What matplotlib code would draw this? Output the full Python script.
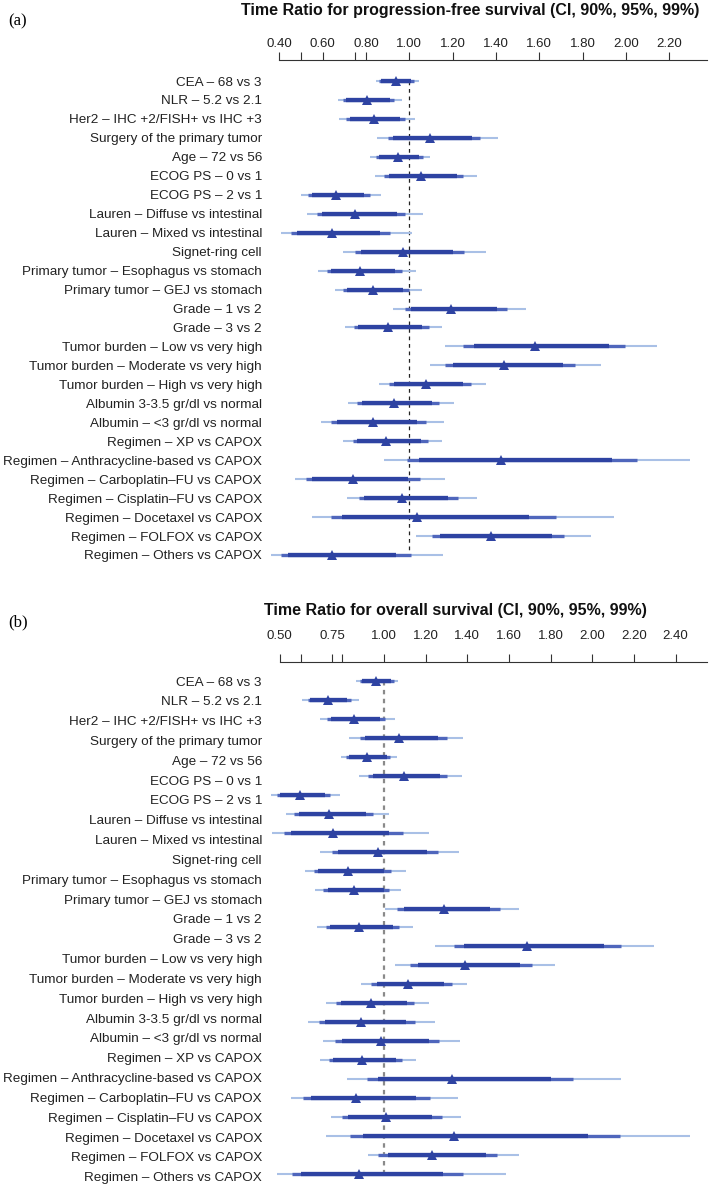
import numpy as np
import matplotlib
matplotlib.use("Agg")
import matplotlib.pyplot as plt

labels = ["CEA – 68 vs 3", "NLR – 5.2 vs 2.1", "Her2 – IHC +2/FISH+ vs IHC +3",
          "Surgery of the primary tumor", "Age – 72 vs 56", "ECOG PS – 0 vs 1",
          "ECOG PS – 2 vs 1", "Lauren – Diffuse vs intestinal", "Lauren – Mixed vs intestinal",
          "Signet-ring cell", "Primary tumor – Esophagus vs stomach",
          "Primary tumor – GEJ vs stomach", "Grade – 1 vs 2", "Grade – 3 vs 2",
          "Tumor burden – Low vs very high", "Tumor burden – Moderate vs very high",
          "Tumor burden – High vs very high", "Albumin 3-3.5 gr/dl vs normal",
          "Albumin – <3 gr/dl vs normal", "Regimen – XP vs CAPOX",
          "Regimen – Anthracycline-based vs CAPOX", "Regimen – Carboplatin–FU vs CAPOX",
          "Regimen – Cisplatin–FU vs CAPOX", "Regimen – Docetaxel vs CAPOX",
          "Regimen – FOLFOX vs CAPOX", "Regimen – Others vs CAPOX"]

# Panel (a): progression-free survival
pt_a = [0.938, 0.803, 0.835, 1.095, 0.949, 1.052, 0.660, 0.751, 0.644, 0.969, 0.772, 0.834, 1.191,
        0.900, 1.579, 1.436, 1.079, 0.929, 0.831, 0.892, 1.423, 0.741, 0.966, 1.037, 1.379, 0.644]
lo90_a = [0.871, 0.707, 0.726, 0.923, 0.861, 0.908, 0.549, 0.595, 0.480, 0.777, 0.638, 0.714, 1.006,
          0.764, 1.297, 1.203, 0.931, 0.781, 0.667, 0.757, 1.046, 0.552, 0.791, 0.691, 1.143, 0.440]
hi90_a = [1.006, 0.911, 0.957, 1.289, 1.046, 1.219, 0.792, 0.941, 0.865, 1.203, 0.934, 0.972, 1.406,
          1.060, 1.924, 1.711, 1.249, 1.103, 1.034, 1.052, 1.935, 0.994, 1.179, 1.554, 1.659, 0.938]
lo95_a = [0.860, 0.696, 0.707, 0.901, 0.848, 0.883, 0.532, 0.572, 0.453, 0.749, 0.618, 0.694, 0.980,
          0.743, 1.249, 1.166, 0.906, 0.758, 0.640, 0.738, 0.988, 0.523, 0.766, 0.640, 1.105, 0.409]
hi95_a = [1.022, 0.929, 0.980, 1.328, 1.062, 1.248, 0.817, 0.980, 0.912, 1.251, 0.965, 0.998, 1.450,
          1.091, 1.996, 1.767, 1.283, 1.139, 1.075, 1.085, 2.050, 1.048, 1.223, 1.677, 1.716, 1.006]
lo99_a = [0.845, 0.670, 0.677, 0.851, 0.820, 0.841, 0.501, 0.527, 0.409, 0.694, 0.578, 0.657, 0.923,
          0.703, 1.165, 1.094, 0.861, 0.715, 0.594, 0.694, 0.883, 0.470, 0.712, 0.552, 1.032, 0.360]
hi99_a = [1.046, 0.968, 1.028, 1.408, 1.097, 1.314, 0.868, 1.062, 1.014, 1.356, 1.029, 1.057, 1.540,
          1.152, 2.146, 1.884, 1.354, 1.208, 1.162, 1.151, 2.295, 1.165, 1.313, 1.947, 1.838, 1.154]
ticks_a = [0.4, 0.5, 0.6, 0.75, 0.8, 1.0, 1.2, 1.4, 1.6, 1.8, 2.0, 2.2]
ticklabels_a = ["0.40", "", "0.60", "", "0.80", "1.00", "1.20", "1.40", "1.60", "1.80", "2.00", "2.20"]

# Panel (b): overall survival (27 interval rows drawn in the original)
pt_b = [0.962, 0.731, 0.858, 1.072, 0.918, 1.098, 0.598, 0.736, 0.754, 0.970, 0.829, 0.854, 1.288,
        0.878, 1.688, 1.387, 1.115, 0.938, 0.891, 0.984, 0.896, 1.325, 0.866, 1.010, 1.338, 1.232, 0.880]
lo90_b = [0.894, 0.645, 0.744, 0.910, 0.834, 0.949, 0.501, 0.594, 0.554, 0.781, 0.685, 0.730, 1.096,
          0.741, 1.386, 1.162, 0.965, 0.792, 0.717, 0.798, 0.757, 0.973, 0.648, 0.827, 0.899, 1.021, 0.600]
hi90_b = [1.032, 0.824, 0.981, 1.261, 1.013, 1.269, 0.717, 0.914, 1.026, 1.205, 1.000, 1.000, 1.509,
          1.042, 2.058, 1.653, 1.290, 1.109, 1.104, 1.216, 1.056, 1.800, 1.154, 1.230, 1.981, 1.488, 1.285]
lo95_b = [0.885, 0.634, 0.726, 0.885, 0.819, 0.923, 0.485, 0.570, 0.520, 0.749, 0.662, 0.709, 1.064,
          0.720, 1.336, 1.125, 0.939, 0.770, 0.690, 0.766, 0.734, 0.920, 0.613, 0.798, 0.835, 0.970, 0.558]
hi95_b = [1.048, 0.840, 1.005, 1.301, 1.029, 1.304, 0.739, 0.949, 1.090, 1.258, 1.034, 1.024, 1.555,
          1.074, 2.136, 1.709, 1.328, 1.144, 1.150, 1.266, 1.088, 1.909, 1.219, 1.277, 2.133, 1.541, 1.381]
lo99_b = [0.867, 0.608, 0.694, 0.834, 0.795, 0.878, 0.456, 0.530, 0.464, 0.694, 0.622, 0.670, 1.006,
          0.680, 1.243, 1.054, 0.891, 0.723, 0.637, 0.709, 0.694, 0.822, 0.554, 0.744, 0.723, 0.922, 0.488]
hi99_b = [1.069, 0.878, 1.053, 1.378, 1.061, 1.373, 0.787, 1.024, 1.218, 1.360, 1.104, 1.082, 1.646,
          1.139, 2.298, 1.821, 1.398, 1.214, 1.243, 1.363, 1.152, 2.136, 1.354, 1.370, 2.467, 1.648, 1.586]
ticks_b = [0.5, 0.6, 0.75, 0.8, 1.0, 1.2, 1.4, 1.6, 1.8, 2.0, 2.2, 2.4]
ticklabels_b = ["0.50", "", "0.75", "", "1.00", "1.20", "1.40", "1.60", "1.80", "2.00", "2.20", "2.40"]

title_a = "Time Ratio for progression-free survival (CI, 90%, 95%, 99%)"
title_b = "Time Ratio for overall survival (CI, 90%, 95%, 99%)"

C_DARK = "#2e43a2"
C_MED = "#4f66bc"
C_LIGHT = "#a9c0e6"

W, H = 709, 1185
fig = plt.figure(figsize=(W / 100, H / 100), dpi=100)
SANS = ["Liberation Sans", "DejaVu Sans"]
NARROW = ["Liberation Sans Narrow", "Liberation Sans", "DejaVu Sans"]
plt.rcParams["font.family"] = SANS


def panel(top_px, bot_px, x1_px, scale, row_px, row0_px, nrows, label_rows,
          pt, lo90, hi90, lo95, hi95, lo99, hi99, ticks, ticklabels, spine_lo,
          ref_style, labelpad):
    left_px, right_px = 262, 707
    ax = fig.add_axes([left_px / W, 1 - bot_px / H, (right_px - left_px) / W, (bot_px - top_px) / H])
    ax.set_xlim(1 - (x1_px - left_px) / scale, 1 + (right_px - x1_px) / scale)
    ytop = -(row0_px - top_px) / row_px
    ybot = ytop + (bot_px - top_px) / row_px
    ax.set_ylim(ybot, ytop)
    y = np.arange(nrows)
    ax.vlines(1.0, 0, nrows - 1, zorder=1, **ref_style)
    ax.hlines(y, lo99, hi99, color=C_LIGHT, lw=1.5, zorder=2, clip_on=False)
    ax.hlines(y, lo95, hi95, color=C_MED, lw=2.4, zorder=3, clip_on=False)
    ax.hlines(y, lo90, hi90, color=C_DARK, lw=3.1, zorder=4, clip_on=False)
    ax.plot(pt, y, "^", color=C_DARK, ms=6.5, mew=0, zorder=5, clip_on=False)
    for s in ["left", "right", "bottom"]:
        ax.spines[s].set_visible(False)
    ax.spines["top"].set_bounds(spine_lo, ax.get_xlim()[1])
    ax.spines["top"].set_linewidth(0.8)
    ax.spines["top"].set_color("#333333")
    ax.xaxis.tick_top()
    ax.set_xticks(ticks)
    ax.set_xticklabels(ticklabels, family=NARROW, fontsize=9.5, color="#222222")
    ax.tick_params(axis="x", length=5.5, width=0.8, color="#333333", pad=labelpad)
    ax.set_yticks(label_rows)
    ax.set_yticklabels(labels, fontsize=9.7, color="#222222")
    ax.tick_params(axis="y", length=0, pad=0)
    return ax


panel(60, 570, 409.3, 216.5, 18.96, 81, 26, np.arange(26),
      pt_a, lo90_a, hi90_a, lo95_a, hi95_a, lo99_a, hi99_a, ticks_a, ticklabels_a, 0.4,
      dict(color="#222222", lw=0.9, linestyles=(0, (3, 3))), 2)
panel(661.7, 1185, 384.0, 208.3, 18.96, 681, 27, np.linspace(0, 26.15, 26),
      pt_b, lo90_b, hi90_b, lo95_b, hi95_b, lo99_b, hi99_b, ticks_b, ticklabels_b, 0.5,
      dict(color="#8a8a8a", lw=1.6, linestyles=(0, (2, 2))), 9)

fig.text(470 / W, 1 - 11 / H, title_a, ha="center", va="center", fontsize=11.5,
         fontweight="bold", family=NARROW, color="#111111")
fig.text(455 / W, 1 - 611 / H, title_b, ha="center", va="center", fontsize=11.5,
         fontweight="bold", family=NARROW, color="#111111")
fig.text(8 / W, 1 - 21 / H, "(a)", ha="left", va="center", fontsize=12,
         family=["Liberation Serif", "DejaVu Serif"])
fig.text(8 / W, 1 - 622 / H, "(b)", ha="left", va="center", fontsize=12,
         family=["Liberation Serif", "DejaVu Serif"])

fig.savefig("out.png", dpi=100)
